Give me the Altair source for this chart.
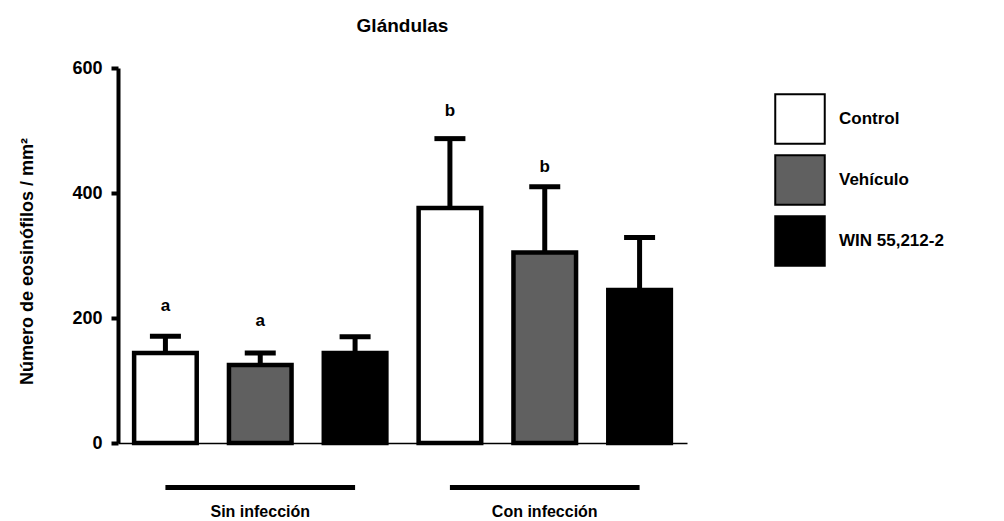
import altair as alt
import pandas as pd

# ---- data ----
positions = [1, 2, 3, 4, 5, 6]
treatments = ["Control", "Vehículo", "WIN 55,212-2", "Control", "Vehículo", "WIN 55,212-2"]
means = [144, 125, 144, 376, 305, 245]
upper = [171, 144, 170, 487, 410, 329]
letters = ["a", "a", "", "b", "b", ""]
letter_y = [212, 187, 0, 523, 433, 0]

group_names = ["Sin infección", "Con infección"]
group_start = [1, 4]
group_end = [3, 6]
group_center = [2, 5]

treatment_order = ["Control", "Vehículo", "WIN 55,212-2"]
fill_colors = ["#ffffff", "#606060", "#000000"]

df = pd.DataFrame({
    "pos": positions,
    "treatment": treatments,
    "mean": means,
    "upper": upper,
    "letter": letters,
    "letter_y": letter_y,
})
groups = pd.DataFrame({
    "group": group_names,
    "start": group_start,
    "end": group_end,
    "center": group_center,
})

FONT = "Liberation Sans"
W, H = 569, 375
HALF = 0.33

xscale = alt.Scale(domain=[0.5, 6.5], nice=False, zero=False)
yscale = alt.Scale(domain=[0, 600], nice=False)

xaxis = alt.Axis(labels=False, ticks=False, grid=False, title=None,
                 domainColor="black", domainWidth=1.5)
yaxis = alt.Axis(values=[0, 200, 400, 600], grid=False,
                 title="Número de eosinófilos / mm²",
                 titleFont=FONT, titleFontSize=18, titleFontWeight="bold",
                 titleColor="black", titleX=-91, titleY=193,
                 titleAlign="center", titleBaseline="middle", titleAngle=-90,
                 labelFont=FONT, labelFontSize=18, labelFontWeight="bold",
                 labelColor="black", labelPadding=9,
                 domainColor="black", domainWidth=4,
                 tickColor="black", tickWidth=4, tickSize=7)

base = alt.Chart(df)

bars = base.transform_calculate(
    x0=f"datum.pos - {HALF}", x1=f"datum.pos + {HALF}", zero="0"
).mark_bar(stroke="black", strokeWidth=4.5, opacity=1).encode(
    x=alt.X("x0:Q", scale=xscale, axis=xaxis),
    x2="x1:Q",
    y=alt.Y("mean:Q", scale=yscale, axis=yaxis),
    y2="zero:Q",
    fill=alt.Fill("treatment:N",
                  scale=alt.Scale(domain=treatment_order, range=fill_colors),
                  legend=alt.Legend(title=None, orient="none", legendX=656, legendY=25,
                                    symbolType="square", symbolSize=2450,
                                    symbolStrokeColor="black", symbolStrokeWidth=2,
                                    symbolOpacity=1,
                                    labelFont=FONT, labelFontSize=17, labelFontWeight="bold",
                                    labelColor="black", labelOffset=13, rowPadding=3,
                                    padding=0)),
)

stems = base.mark_rule(color="black", strokeWidth=5).encode(
    x=alt.X("pos:Q", scale=xscale, axis=xaxis),
    y=alt.Y("mean:Q", scale=yscale, axis=yaxis),
    y2="upper:Q",
)

caps = base.mark_tick(color="black", orient="horizontal", size=31, thickness=5, opacity=1).encode(
    x=alt.X("pos:Q", scale=xscale, axis=xaxis),
    y=alt.Y("upper:Q", scale=yscale, axis=yaxis),
)

sig = base.transform_filter("datum.letter != ''").mark_text(
    font=FONT, fontSize=17, fontWeight="bold", color="black", baseline="alphabetic"
).encode(
    x=alt.X("pos:Q", scale=xscale, axis=xaxis),
    y=alt.Y("letter_y:Q", scale=yscale, axis=yaxis),
    text="letter:N",
)

gbase = alt.Chart(groups)
glines = gbase.mark_rule(color="black", strokeWidth=5).encode(
    x=alt.X("start:Q", scale=xscale, axis=xaxis),
    x2="end:Q",
    y=alt.value(419.5),
)
glabels = gbase.mark_text(
    font=FONT, fontSize=16, fontWeight="bold", color="black", baseline="alphabetic"
).encode(
    x=alt.X("center:Q", scale=xscale, axis=xaxis),
    y=alt.value(448.5),
    text="group:N",
)

chart = alt.layer(bars, stems, caps, sig, glines, glabels).properties(
    width=W, height=H,
    title=alt.TitleParams("Glándulas", font=FONT, fontSize=19, fontWeight="bold",
                          color="black", anchor="middle", frame="group",
                          baseline="alphabetic", offset=8),
    autosize=alt.AutoSizeParams(type="none"),
    padding={"left": 110, "top": 60, "right": 300, "bottom": 78},
).configure(font=FONT).configure_view(strokeWidth=0, stroke=None)

chart.save("out.html", embed_options={"renderer": "svg", "actions": False})
